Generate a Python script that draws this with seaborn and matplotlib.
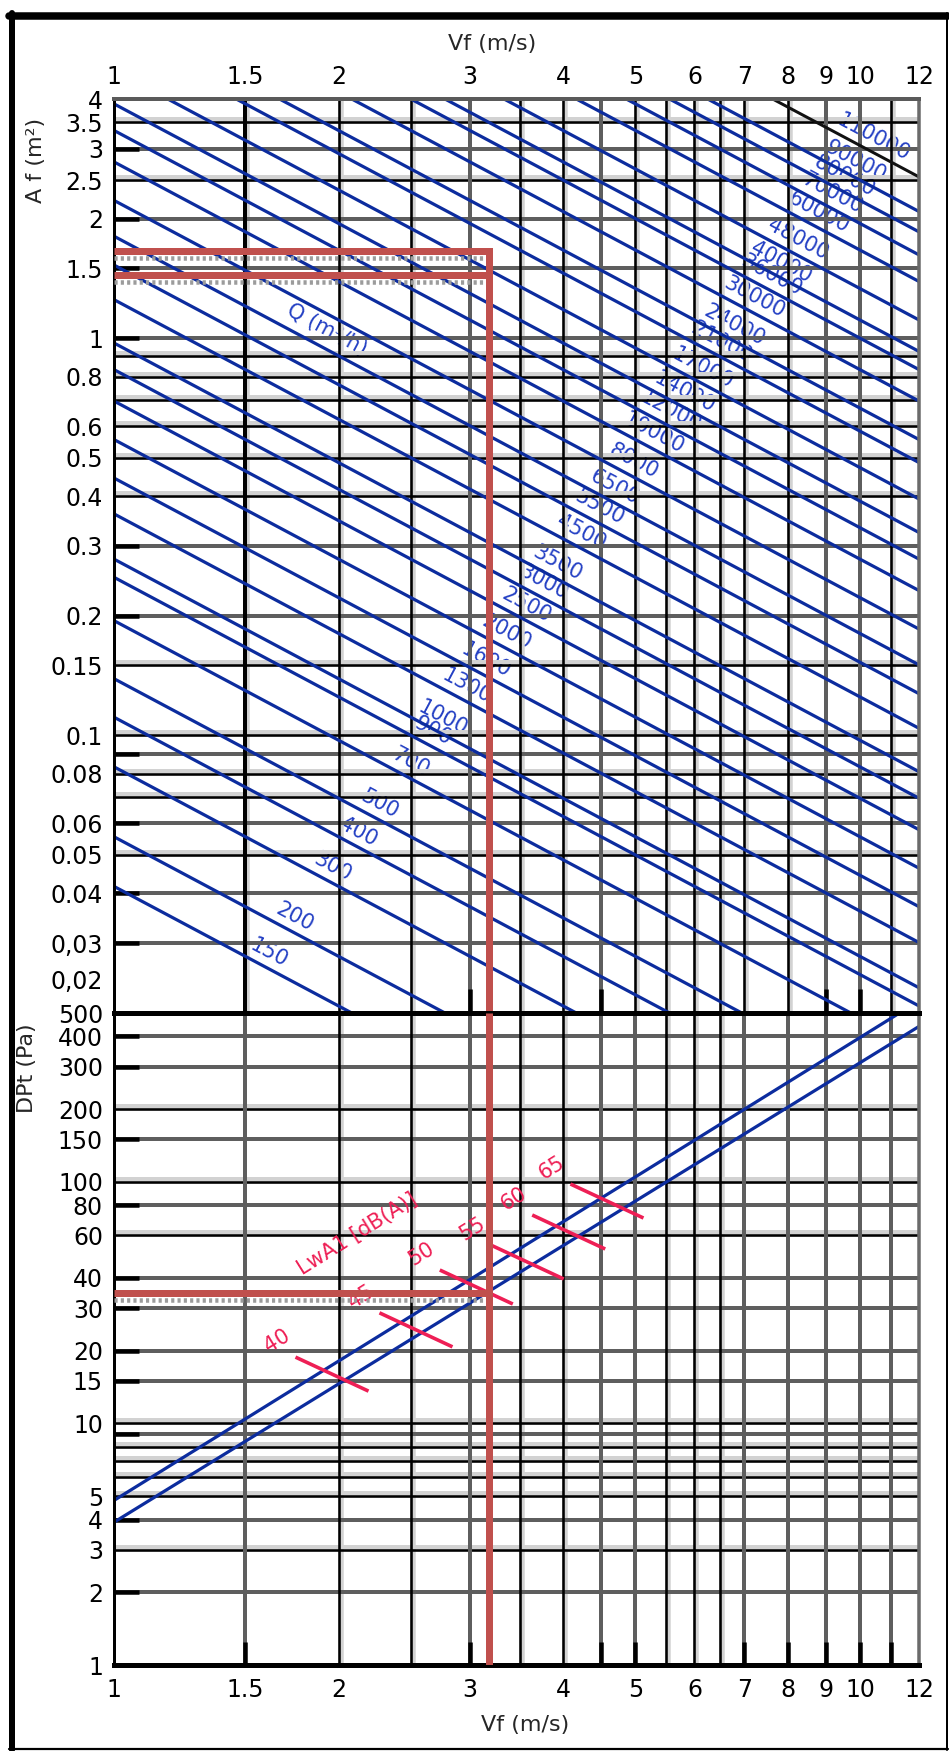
import numpy as np
import pandas as pd
import matplotlib
matplotlib.use("Agg")
import matplotlib.pyplot as plt
import matplotlib.transforms as mtransforms
from matplotlib.lines import Line2D
from matplotlib.ticker import NullLocator
import seaborn as sns

# Air flow rates (m3/h) of the iso-flow lines
flow_q = [150, 200, 300, 400, 500, 700, 900, 1000, 1300, 1600, 2000, 2500,
          3000, 3500, 4500, 5500, 6500, 8000, 10000, 12000, 14000, 17000,
          21000, 24000, 30000, 36000, 40000, 48000, 60000, 70000, 80000,
          90000, 110000]

# Face velocity axis (m/s)
vel_ticks = [1, 1.5, 2, 3, 4, 5, 6, 7, 8, 9, 10, 12]
vel_labels = ["1", "1.5", "2", "3", "4", "5", "6", "7", "8", "9", "10", "12"]
vel_grid = [1.5, 2, 2.5, 3, 3.5, 4, 4.5, 5, 5.5, 6, 6.5, 7, 8, 9, 10, 11]

# Face area axis (m2)
area_ticks = [4, 3.5, 3, 2.5, 2, 1.5, 1, 0.8, 0.6, 0.5, 0.4, 0.3, 0.2, 0.15,
              0.1, 0.08, 0.06, 0.05, 0.04, 0.03]
area_labels = ["4", "3.5", "3", "2.5", "2", "1.5", "1", "0.8", "0.6", "0.5",
               "0.4", "0.3", "0.2", "0.15", "0.1", "0.08", "0.06", "0.05",
               "0.04", "0,03"]
area_grid = [3.5, 3, 2.5, 2, 1.5, 1, 0.9, 0.8, 0.7, 0.6, 0.5, 0.4, 0.3, 0.2,
             0.15, 0.1, 0.09, 0.08, 0.07, 0.06, 0.05, 0.04, 0.03]
area_grid_dark = [3, 2, 1.5, 1, 0.3, 0.2, 0.09, 0.06, 0.04, 0.03]

# Total pressure drop axis (Pa)
dp_ticks = [500, 400, 300, 200, 150, 100, 80, 60, 40, 30, 20, 15, 10, 5, 4, 3, 2, 1]
dp_labels = ["500", "400", "300", "200", "150", "100", "80", "60", "40", "30",
             "20", "15", "10", "5", "4", "3", "2", "1"]
dp_grid = [400, 300, 200, 150, 100, 80, 60, 40, 30, 20, 15, 10, 9, 8, 7, 6, 5, 4, 3, 2]
dp_grid_dark = [400, 300, 150, 80, 40, 30, 20, 15, 9, 4, 2]

vel_grid_dark_top = [3, 4.5, 9, 10]
vel_grid_dark_bottom = [1.5, 3, 4.5, 5, 7, 8, 9, 10, 11]

# Pressure-drop curves: end points (velocity m/s, pressure Pa)
dp_curve = ["upper", "upper", "lower", "lower"]
dp_vel = [1.0, 11.3, 1.0, 12.0]
dp_pa = [4.8, 500.0, 3.9, 440.0]

# Sound power marks along the pressure-drop band
lwa_db = [40, 45, 50, 55, 60, 65]
lwa_vel = [1.96, 2.54, 3.06, 3.58, 4.07, 4.58]
lwa_pa = [16.0, 24.4, 36.7, 46.6, 62.0, 83.3]

# Worked example
ex_vel = 3.18
ex_area = [1.66, 1.44]
ex_pa = 34.7

# ---------------------------------------------------------------------------
sns.set_theme(style="white")
plt.rcParams["font.family"] = ["DejaVu Sans"]

W, H = 949, 1751
fig = plt.figure(figsize=(W / 100, H / 100), dpi=100, facecolor="white")


def px(v):
    """pixels -> points at 100 dpi"""
    return v * 0.72


BLUE = "#0c2c9e"
QBLUE = "#2440c4"
GRAY_DARK = "#5e5e5e"
GRAY_LIGHT = "#d2d2d2"
TICK_RED = "#ee1f55"
EX_RED = "#c0504d"
TICK_FS = 17

L, R, T1, B1, B2 = 114, 919, 99, 1013, 1665
ax1 = fig.add_axes([L / W, 1 - B1 / H, (R - L) / W, (B1 - T1) / H])
ax2 = fig.add_axes([L / W, 1 - B2 / H, (R - L) / W, (B2 - B1) / H])
for ax in (ax1, ax2):
    ax.set_xscale("log")
    ax.set_yscale("log")
    ax.set_xlim(1, 12)
    ax.set_facecolor("white")
ax1.set_ylim(0.02, 4)
ax2.set_ylim(1, 500)


def hgrid(ax, y, dark):
    tr = ax.get_yaxis_transform()
    if dark:
        ax.plot([0, 1], [y, y], transform=tr, color=GRAY_DARK, lw=px(4),
                zorder=2, solid_capstyle="butt")
        ax.plot([0, 0.031], [y, y], transform=tr, color="black", lw=px(4.5),
                zorder=2.2, solid_capstyle="butt")
    else:
        band = mtransforms.offset_copy(tr, fig=fig, y=3, units="dots")
        ax.plot([0, 1], [y, y], transform=band, color=GRAY_LIGHT, lw=px(4),
                zorder=1.9, solid_capstyle="butt")
        ax.plot([0, 1], [y, y], transform=tr, color="black", lw=px(2.6),
                zorder=2, solid_capstyle="butt")


def vgrid(ax, x, dark, stub, lw_black=2.6):
    tr = ax.get_xaxis_transform()
    if dark:
        ax.plot([x, x], [0, 1], transform=tr, color=GRAY_DARK, lw=px(4),
                zorder=2, solid_capstyle="butt")
        ax.plot([x, x], [0, stub], transform=tr, color="black", lw=px(4.5),
                zorder=2.2, solid_capstyle="butt")
    else:
        band = mtransforms.offset_copy(tr, fig=fig, x=3, units="dots")
        ax.plot([x, x], [0, 1], transform=band, color=GRAY_LIGHT, lw=px(3.5),
                zorder=1.9, solid_capstyle="butt")
        ax.plot([x, x], [0, 1], transform=tr, color="black", lw=px(lw_black),
                zorder=2, solid_capstyle="butt")


for y in area_grid:
    hgrid(ax1, y, y in area_grid_dark)
for y in dp_grid:
    hgrid(ax2, y, y in dp_grid_dark)
for x in vel_grid:
    vgrid(ax1, x, x in vel_grid_dark_top, 0.026, 4.0 if x == 1.5 else 2.6)
    vgrid(ax2, x, x in vel_grid_dark_bottom, 0.036)

# Spines
for ax in (ax1, ax2):
    ax.spines["left"].set_color("black")
    ax.spines["left"].set_linewidth(px(3))
    ax.spines["right"].set_color("#6a6a6a")
    ax.spines["right"].set_linewidth(px(3.5))
ax1.spines["top"].set_color("#5a5a5a")
ax1.spines["top"].set_linewidth(px(4))
ax1.spines["bottom"].set_visible(False)
ax2.spines["top"].set_color("black")
ax2.spines["top"].set_linewidth(px(5))
ax2.spines["bottom"].set_color("black")
ax2.spines["bottom"].set_linewidth(px(5))
for ax in (ax1, ax2):
    for s in ax.spines.values():
        s.set_zorder(5)

# Iso-flow lines: A = Q / (3600 V)
rows = []
for q in flow_q:
    v0 = max(1.0, q / (3600 * 4.0))
    v1 = min(12.0, q / (3600 * 0.02))
    for v in (v0, v1):
        rows.append({"Q": q, "V": v, "A": q / (3600.0 * v)})
flow_df = pd.DataFrame(rows)
sns.lineplot(data=flow_df[flow_df["Q"] < 110000], x="V", y="A", units="Q",
             estimator=None, sort=False, color=BLUE, lw=px(3.2), ax=ax1,
             legend=False, zorder=3)
sns.lineplot(data=flow_df[flow_df["Q"] == 110000], x="V", y="A", units="Q",
             estimator=None, sort=False, color="#111111", lw=px(3), ax=ax1,
             legend=False, zorder=3)

# Pressure-drop curves
dp_df = pd.DataFrame({"curve": dp_curve, "V": dp_vel, "DP": dp_pa})
sns.lineplot(data=dp_df, x="V", y="DP", units="curve", estimator=None,
             sort=False, color=BLUE, lw=px(3.2), ax=ax2, legend=False, zorder=3)

for ax in (ax1, ax2):
    ax.set_xlabel("")
    ax.set_ylabel("")

# Flow labels along the lines
p0 = ax1.transData.transform((1, 1))
p1 = ax1.transData.transform((10, 0.1))
ang = np.degrees(np.arctan2(p1[1] - p0[1], p1[0] - p0[0]))
nrm = np.array([-np.sin(np.radians(ang)), np.cos(np.radians(ang))])
for q in flow_q:
    lv = -0.417 + 0.283 * np.log10(q)
    v = 10 ** lv
    a = q / (3600.0 * v)
    ax1.annotate(str(q), xy=(v, a), xytext=(14 * nrm[0], 14 * nrm[1]),
                 textcoords="offset pixels", rotation=ang, ha="center",
                 va="center", color=QBLUE, fontsize=15, zorder=1.5)
ax1.annotate("Q (m³/h)", xy=(1.93, 1.05), xytext=(0, 0),
             textcoords="offset pixels", rotation=ang, ha="center",
             va="center", color=QBLUE, fontsize=15, zorder=1.5)

# Sound power marks
inv = ax2.transData.inverted()
for v, p, db in zip(lwa_vel, lwa_pa, lwa_db):
    cx, cy = ax2.transData.transform((v, p))
    a0 = inv.transform((cx - 36.5, cy + 17))
    a1 = inv.transform((cx + 36.5, cy - 17))
    ax2.plot([a0[0], a1[0]], [a0[1], a1[1]], color=TICK_RED, lw=px(3.6),
             zorder=4, solid_capstyle="butt")
    ax2.annotate(str(db), xy=(v, p), xytext=(-55, 33),
                 textcoords="offset pixels", rotation=32, ha="center",
                 va="center", color=TICK_RED, fontsize=15, zorder=4)
ax2.text(2.12, 61, "LwA1 [dB(A)]", rotation=32, ha="center", va="center",
         color=TICK_RED, fontsize=15, zorder=4)

# Worked example
ax1.plot([1, ex_vel, ex_vel], [ex_area[0], ex_area[0], 0.02], color=EX_RED,
         lw=px(7), zorder=6, solid_joinstyle="miter", solid_capstyle="butt",
         clip_on=False)
ax1.plot([1, ex_vel], [ex_area[1], ex_area[1]], color=EX_RED, lw=px(7),
         zorder=6, solid_capstyle="butt")
ax2.plot([ex_vel, ex_vel], [500, 1], color=EX_RED, lw=px(7), zorder=6,
         solid_capstyle="butt")
ax2.plot([1, ex_vel], [ex_pa, ex_pa], color=EX_RED, lw=px(7), zorder=6,
         solid_capstyle="butt")
for ax, yv in ((ax1, ex_area[0]), (ax1, ex_area[1]), (ax2, ex_pa)):
    shade = mtransforms.offset_copy(ax.transData, fig=fig, y=-7, units="dots")
    ax.plot([1, ex_vel], [yv, yv], transform=shade, color="#9c9c9c",
            lw=px(4.5), ls=(0, (0.7, 0.7)), zorder=5.5, solid_capstyle="butt")

# Ticks and labels
for ax in (ax1, ax2):
    ax.xaxis.set_minor_locator(NullLocator())
    ax.yaxis.set_minor_locator(NullLocator())
    ax.tick_params(axis="both", length=0, labelsize=TICK_FS, labelcolor="black")
ax1.xaxis.set_ticks_position("top")
ax1.set_xticks(vel_ticks, vel_labels)
ax1.set_yticks(area_ticks, area_labels)
ax1.tick_params(axis="x", pad=7)
ax1.tick_params(axis="y", pad=8)
ax1.annotate("0,02", xy=(0, 0.02), xycoords=("axes fraction", "data"),
             xytext=(-11, 31), textcoords="offset pixels", ha="right",
             va="center", fontsize=TICK_FS, color="black")
ax2.set_xticks(vel_ticks, vel_labels)
ax2.set_yticks(dp_ticks, dp_labels)
ax2.tick_params(axis="x", pad=9)
ax2.tick_params(axis="y", pad=8)
ax1.set_xlim(1, 12)
ax2.set_xlim(1, 12)
ax1.set_ylim(0.02, 4)
ax2.set_ylim(1, 500)

fig.text(492 / W, 1 - 44 / H, "Vf (m/s)", ha="center", va="center", fontsize=16)
fig.text(525 / W, 1 - 1725 / H, "Vf (m/s)", ha="center", va="center", fontsize=16)
fig.text(36 / W, 1 - 160 / H, "A f (m²)", ha="center", va="center",
         rotation=90, fontsize=16)
fig.text(27 / W, 1 - 1068 / H, "DPt (Pa)", ha="center", va="center",
         rotation=90, fontsize=16)

# Outer frame
tf = fig.transFigure
fig.add_artist(Line2D([9 / W, 948 / W], [1 - 16.5 / H] * 2, color="black",
                      lw=px(7.5), transform=tf))
fig.add_artist(Line2D([12 / W] * 2, [1 - 13 / H, 1 - 1750 / H], color="black",
                      lw=px(6), transform=tf))
fig.add_artist(Line2D([9 / W, 948 / W], [1 - 1749 / H] * 2, color="black",
                      lw=px(2.2), transform=tf))
fig.add_artist(Line2D([946.5 / W] * 2, [1 - 13 / H, 1 - 1750 / H],
                      color="black", lw=px(2), transform=tf))

fig.savefig("out.png", dpi=100, facecolor="white")
